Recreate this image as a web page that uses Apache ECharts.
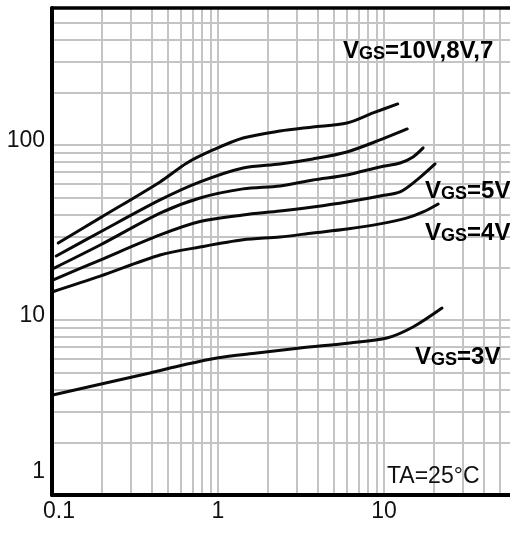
<!DOCTYPE html>
<html>
<head>
<meta charset="utf-8">
<script src="https://cdn.jsdelivr.net/npm/echarts@6/dist/echarts.min.js"></script>
<style>
  html, body { margin: 0; padding: 0; background: #fff; }
  #chart { width: 510px; height: 533px; }
</style>
</head>
<body>
<div id="chart"></div>
<script>
// drain-source characteristic curves as [x, y]
const vgs10 = [[0.109, 27.5], [0.195, 38.3], [0.4475, 61.5], [0.65, 78.9], [0.933, 93.6], [1.415, 109.6], [2.36, 120.1], [3.73, 126.7], [5.98, 133.6], [8.59, 152.4], [12.1, 171.5]]
const vgs8 = [[0.106, 23.2], [0.195, 31.8], [0.4475, 48.5], [0.779, 61.5], [1.415, 73.9], [2.36, 77.9], [3.73, 83.2], [5.98, 91.2], [9.46, 106.8], [13.8, 123.4]]
const vgs7 = [[0.101, 19.6], [0.195, 26.8], [0.4475, 40.8], [0.779, 49.8], [1.415, 56.1], [2.36, 58.3], [3.73, 63.1], [5.98, 67.4], [9.46, 74.9], [12.5, 78.9], [14.95, 85.4], [17.2, 96.2]]
const vgs5 = [[0.101, 16.9], [0.195, 22.0], [0.4475, 30.6], [0.779, 36.5], [1.415, 39.8], [2.36, 41.9], [3.73, 44.2], [5.98, 47.2], [9.46, 51.1], [12.5, 53.9], [15.8, 63.1], [20.3, 77.9]]
const vgs4 = [[0.101, 14.5], [0.195, 17.8], [0.4475, 23.5], [0.779, 26.1], [1.415, 28.7], [2.36, 29.8], [3.73, 31.4], [5.98, 33.1], [9.46, 35.4], [13.8, 38.3], [17.2, 41.4], [21.2, 46.0]]
const vgs3 = [[0.101, 3.73], [0.389, 4.98], [0.615, 5.53], [0.986, 6.07], [1.718, 6.48], [3.12, 6.92], [6.24, 7.39], [10.4, 7.89], [14.95, 9.12], [22.35, 11.7]]

const xTicks = [0.1, 1, 10]
const yTicks = [1, 10, 100]
// log paper grid lines (plot is cut off on the right, just past 50)
const xGrid = [0.2, 0.3, 0.4, 0.5, 0.6, 0.7, 0.8, 0.9, 1, 2, 3, 4, 5, 6, 7, 8, 9, 10, 20, 30, 40, 50]
const yGrid = [2, 3, 4, 5, 6, 7, 8, 9, 10, 20, 30, 40, 50, 60, 70, 80, 90, 100, 200, 300, 400, 500]

const tickFont = '"Liberation Sans", Arial, sans-serif'
const boldFont = '"Liberation Sans", Arial, sans-serif'

const isTick = (list, v) => list.some((t) => Math.abs(t - v) / t < 1e-6)

function curve(name, data) {
  return {
    name,
    type: 'line',
    data,
    smooth: 0.3,
    showSymbol: false,
    silent: true,
    z: 3,
    lineStyle: { color: '#0a0a0a', width: 3, cap: 'round' },
  }
}

function vgsLabel(x, y, rest) {
  return {
    type: 'text',
    x,
    y,
    z: 20,
    silent: true,
    style: {
      text: '{v|V}{s|GS}{v|' + rest + '}',
      verticalAlign: 'middle',
      align: 'left',
      rich: {
        v: { fontSize: 24, fontWeight: 'bold', fontFamily: boldFont, fill: '#000', verticalAlign: 'bottom' },
        s: { fontSize: 18, fontWeight: 'bold', fontFamily: boldFont, fill: '#000', verticalAlign: 'bottom' },
      },
    },
  }
}

const chart = echarts.init(document.getElementById('chart'), null, { renderer: 'canvas' })

chart.setOption({
  animation: false,
  backgroundColor: '#fff',
  grid: { left: 52, right: 0, top: 8, bottom: 38, containLabel: false },
  xAxis: [
    {
      type: 'log',
      logBase: 10,
      min: 0.1,
      max: 57.4,
      z: 5,
      axisLine: { show: true, onZero: false, lineStyle: { color: '#000', width: 4 } },
      axisTick: { show: false },
      splitLine: { show: false },
      axisLabel: {
        margin: 5,
        fontSize: 23,
        fontFamily: tickFont,
        color: '#111',
        showMaxLabel: false,
        formatter: (v) => {
          if (!isTick(xTicks, v)) return ''
          if (v < 0.5) return '{first|0.1}'
          return String(v)
        },
        rich: { first: { fontSize: 23, fontFamily: tickFont, color: '#111', padding: [0, 0, 0, 14] } },
      },
    },
    {
      type: 'log',
      logBase: 10,
      min: 0.1,
      max: 57.4,
      position: 'top',
      z: 5,
      axisLine: { show: true, onZero: false, lineStyle: { color: '#000', width: 3.5 } },
      axisTick: { show: false },
      splitLine: { show: false },
      axisLabel: { show: false },
    },
  ],
  yAxis: {
    type: 'log',
    logBase: 10,
    min: 1,
    max: 606,
    z: 5,
    axisLine: { show: true, onZero: false, lineStyle: { color: '#000', width: 4 } },
    axisTick: { show: false },
    splitLine: { show: false },
    axisLabel: {
      margin: 7,
      fontSize: 23,
      fontFamily: tickFont,
      color: '#111',
      showMaxLabel: false,
      formatter: (v) => {
        if (!isTick(yTicks, v)) return ''
        if (v < 2) return '{low|1}'
        return '{up|' + v + '}'
      },
      rich: {
        up: { fontSize: 23, fontFamily: tickFont, color: '#111', padding: [0, 0, 8, 0] },
        low: { fontSize: 23, fontFamily: tickFont, color: '#111', padding: [0, 0, 46, 0] },
      },
    },
  },
  series: [
    {
      name: 'grid',
      type: 'line',
      data: [],
      silent: true,
      markLine: {
        silent: true,
        z: 1,
        symbol: ['none', 'none'],
        animation: false,
        label: { show: false },
        lineStyle: { color: '#c4c4c4', width: 2, type: 'solid' },
        emphasis: { disabled: true },
        data: [
          ...xGrid.map((v) => ({ xAxis: v })),
          ...yGrid.map((v) => ({ yAxis: v })),
        ],
      },
    },
    curve('VGS=10V', vgs10),
    curve('VGS=8V', vgs8),
    curve('VGS=7V', vgs7),
    curve('VGS=5V', vgs5),
    curve('VGS=4V', vgs4),
    curve('VGS=3V', vgs3),
  ],
  graphic: [
    vgsLabel(343, 51, '=10V,8V,7'),
    vgsLabel(425, 191, '=5V'),
    vgsLabel(425, 233, '=4V'),
    vgsLabel(415, 357, '=3V'),
    {
      type: 'text',
      x: 387,
      y: 477,
      z: 20,
      silent: true,
      style: {
        text: 'TA=25°C',
        font: '23px ' + boldFont,
        fill: '#111',
        verticalAlign: 'middle',
        align: 'left',
      },
    },
  ],
})
</script>
</body>
</html>
